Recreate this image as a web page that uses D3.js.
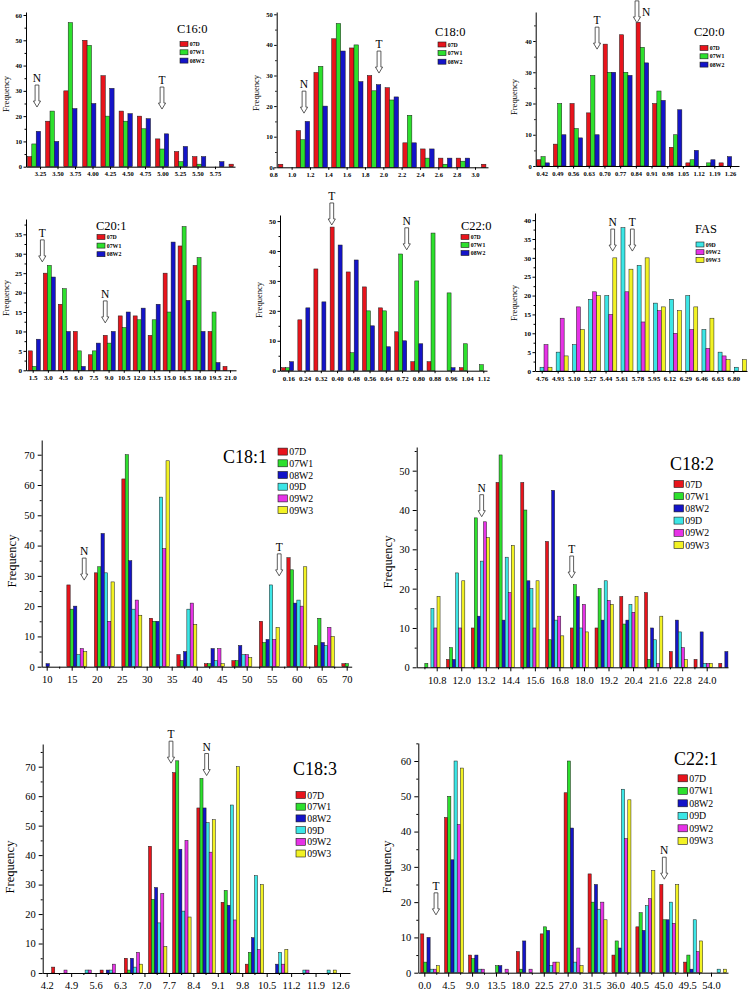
<!DOCTYPE html>
<html><head><meta charset="utf-8">
<script src="https://cdnjs.cloudflare.com/ajax/libs/d3/7.8.5/d3.min.js"></script>
<style>
body{margin:0;background:#fff}
svg{display:block}
text{font-family:"Liberation Serif","Times New Roman",serif;fill:#000}
</style></head>
<body><svg id="c" width="750" height="992"></svg>
<script>
// ---------------- DATA ----------------
const colors = {"07D":"#e8141c","07W1":"#2de02d","08W2":"#1414c8","09D":"#3ce6e6","09W2":"#e632e6","09W3":"#f2f224"};

// C16:0
const c160Bins = [3.07,3.33,3.59,3.86,4.12,4.38,4.64,4.90,5.17,5.43,5.69,5.95];
const c160Ticks = [3.25,3.50,3.75,4.00,4.25,4.50,4.75,5.00,5.25,5.50,5.75];
const c160_07D  = [4,18,30,50,36,22,20,11,6,4,0,1];
const c160_07W1 = [9,22,57,48,20,18,15,7,2,1,0,0];
const c160_08W2 = [14,10,23,25,31,21,19,13,8,4,2,0];
const c160Arrows = [{label:"N",x:3.207,tip:23.6},{label:"T",x:4.993,tip:22.8}];

// C18:0
const c180Bins = [0.855,1.049,1.243,1.437,1.631,1.825,2.019,2.213,2.407,2.601,2.795,3.07];
const c180Ticks = [0.8,1.0,1.2,1.4,1.6,1.8,2.0,2.2,2.4,2.6,2.8,3.0];
const c180_07D  = [1,12,31,42,39,30,26,8,6,3,3,1];
const c180_07W1 = [0,9,33,47,40,25,22,17,3,1,2,0];
const c180_08W2 = [0,15,20,38,28,27,23,8,6,3,3,0];
const c180Arrows = [{label:"N",x:1.135,tip:17.7},{label:"T",x:1.953,tip:30.8}];

// C20:0
const c200Bins = [0.398,0.472,0.546,0.620,0.694,0.767,0.841,0.915,0.989,1.063,1.137,1.211];
const c200Ticks = [0.42,0.49,0.56,0.63,0.70,0.77,0.84,0.91,0.98,1.05,1.12,1.19,1.26];
const c200_07D  = [2,7,20,17,39,42,46,20,6,1,0,1];
const c200_07W1 = [3,20,12,29,30,30,38,24,10,2,1,0];
const c200_08W2 = [1,10,9,10,30,29,33,21,18,5,2,3];
const c200Arrows = [{label:"T",x:0.667,tip:37.4},{label:"N",x:0.845,tip:45.8,side:"right"}];

// C20:1
const c201Bins = [1.07,2.55,4.03,5.51,6.99,8.47,9.95,11.43,12.91,14.39,15.87,17.35,18.83,20.31];
const c201Ticks = [1.5,3.0,4.5,6.0,7.5,9.0,10.5,12.0,13.5,15.0,16.5,18.0,19.5,21.0];
const c201_07D  = [5,25,17,10,4,9,14,14,9,25,32,27,10,1];
const c201_07W1 = [1,27,21,5,5,7,11,13,13,15,37,29,15,0];
const c201_08W2 = [8,24,10,1,7,10,15,16,17,33,18,10,2,0];
const c201Arrows = [{label:"T",x:2.45,tip:27.9},{label:"N",x:8.67,tip:12.2}];

// C22:0
const c220Bins = [0.127,0.207,0.286,0.366,0.445,0.525,0.604,0.684,0.763,0.843,0.922,1.002,1.081];
const c220Ticks = [0.16,0.24,0.32,0.40,0.48,0.56,0.64,0.72,0.80,0.88,0.96,1.04,1.12];
const c220_07D  = [1,17,34,48,33,28,21,13,3,3,0,1,0];
const c220_07W1 = [1,0,0,0,6,20,20,39,30,46,26,9,2];
const c220_08W2 = [3,21,23,42,37,15,8,10,9,0,1,0,0];
const c220Arrows = [{label:"T",x:0.374,tip:48.7},{label:"N",x:0.743,tip:40.4}];

// FAS
const fasBins = [4.742,4.914,5.087,5.259,5.432,5.604,5.776,5.949,6.121,6.294,6.466,6.638,6.811];
const fasTicks = [4.76,4.93,5.10,5.27,5.44,5.61,5.78,5.95,6.12,6.29,6.46,6.63,6.80];
const fas_09D  = [1,5,7,19,20,38,28,18,19,20,11,5,1];
const fas_09W2 = [7,14,17,21,15,21,13,16,10,11,6,4,0];
const fas_09W3 = [1,4,11,20,30,27,30,17,16,17,14,3,3];
const fasArrows = [{label:"N",x:5.516,tip:31.8},{label:"T",x:5.725,tip:31.8}];

// C18:1
const c181Bins = [8.53,14.03,19.53,25.03,30.53,36.03,41.53,47.03,52.53,58.03,63.53,69.03];
const c181Ticks = [10,15,20,25,30,35,40,45,50,55,60,65,70];
const c181_07D  = [0,27,31,62,16,4,1,2,15,36,7,1];
const c181_07W1 = [0,19,33,70,15,2,1,2,8,32,16,1];
const c181_08W2 = [1,20,44,35,15,5,6,7,9,21,8,0];
const c181_09D  = [0,4,31,19,56,19,2,4,27,22,7,0];
const c181_09W2 = [0,6,15,22,39,21,6,4,9,20,13,0];
const c181_09W3 = [0,5,28,17,68,14,1,3,13,33,10,0];
const c181Arrows = [{label:"N",x:17.5,tip:28.6},{label:"T",x:56.5,tip:30.0}];

// C18:2
const c182Bins = [10.07,11.28,12.49,13.70,14.91,16.12,17.33,18.54,19.75,20.96,22.17,23.38,24.59];
const c182Ticks = [10.8,12.0,13.2,14.4,15.6,16.8,18.0,19.2,20.4,21.6,22.8,24.0];
const c182_07D  = [0,2,10,47,47,32,10,10,18,19,4,2,1];
const c182_07W1 = [1,5,38,54,40,7,21,20,11,2,0,0,0];
const c182_08W2 = [0,2,13,12,22,45,18,12,12,10,12,9,4];
const c182_09D  = [15,24,27,28,20,12,10,22,16,7,9,1,0];
const c182_09W2 = [10,10,37,19,10,13,16,17,14,1,5,1,0];
const c182_09W3 = [18,22,33,31,22,8,9,16,18,13,2,1,0];
const c182Arrows = [{label:"N",x:13.0,tip:38.3},{label:"T",x:17.4,tip:22.7}];

// C18:3
const c183Bins = [4.343,5.036,5.729,6.422,7.115,7.808,8.501,9.194,9.887,10.580,11.273,11.966];
const c183Ticks = [4.2,4.9,5.6,6.3,7.0,7.7,8.4,9.1,9.8,10.5,11.2,11.9,12.6];
const c183_07D  = [2,0,1,5,43,68,56,24,3,0,0,0];
const c183_07W1 = [0,0,0,1,25,72,66,28,7,0,0,0];
const c183_08W2 = [0,0,1,5,29,42,56,23,12,3,0,0];
const c183_09D  = [0,1,1,2,17,21,51,57,33,7,1,1];
const c183_09W2 = [1,1,3,7,27,45,41,18,8,3,1,0];
const c183_09W3 = [0,0,0,3,9,19,52,70,30,8,0,1];
const c183Arrows = [{label:"T",x:7.76,tip:71.2},{label:"N",x:8.78,tip:67.0}];

// C22:1
const c221Bins = [-0.69,3.81,8.32,12.82,17.33,21.83,26.33,30.84,35.34,39.85,44.35,48.85,53.36];
const c221Ticks = [0,4.5,9,13.5,18,22.5,27,31.5,36,40.5,45,49.5,54];
const c221_07D  = [11,44,5,0,6,11,51,28,5,13,25,3,0];
const c221_07W1 = [3,50,4,2,1,13,60,20,9,17,15,5,0];
const c221_08W2 = [10,32,5,2,9,12,41,25,7,12,15,1,0];
const c221_09D  = [1,60,1,0,0,2,3,18,52,19,20,15,1];
const c221_09W2 = [1,42,1,1,1,3,7,20,38,21,14,6,0];
const c221_09W3 = [2,58,0,0,0,3,2,15,49,29,25,9,1];
const c221Arrows = [{label:"T",x:2.2,tip:16.4},{label:"N",x:45.2,tip:26.5}];

// ---------------- LAYOUT ----------------
const small = {tick:2.5, minor:1.5, tickFs:6.5, bold:true, labFs:8.5, titleFs:12.5, arrowFs:11.5,
  leg:{sw:8, sh:5, fs:5.8, bold:true}, xPad:2.5};
const big = {tick:4, minor:2, tickFs:10.5, bold:false, labFs:12.5, titleFs:18, arrowFs:11.5,
  leg:{sw:9.5, sh:7, fs:9.8, bold:false}, xPad:5, xMinor:true};

const panels = [
 {style:small, title:"C16:0", axL:26, axR:235, base:166.7, axTop:12, cal:[3.25,40,5.75,215], ycal:[60,15], barW:4.4,
  yStep:10, xTicks:c160Ticks, xFmt:".2f", bins:c160Bins, series:[["07D",c160_07D],["07W1",c160_07W1],["08W2",c160_08W2]],
  titlePos:[177,33], legPos:[180,44,8.3], ylab:[6,94], arrows:c160Arrows},
 {style:small, title:"C18:0", axL:276.7, axR:488, base:167.3, axTop:12, cal:[0.8,273.3,3.0,475], ycal:[50,14.3], barW:4.5,
  yStep:10, xTicks:c180Ticks, xFmt:".1f", bins:c180Bins, series:[["07D",c180_07D],["07W1",c180_07W1],["08W2",c180_08W2]],
  titlePos:[435,36], legPos:[438,44.5,8.6], ylab:[256,93], arrows:c180Arrows},
 {style:small, title:"C20:0", axL:535.7, axR:739, base:166, axTop:12, cal:[0.42,541.7,1.26,730], ycal:[40,41], barW:4.2,
  yStep:10, xTicks:c200Ticks, xFmt:".2f", bins:c200Bins, series:[["07D",c200_07D],["07W1",c200_07W1],["08W2",c200_08W2]],
  titlePos:[694,36], legPos:[700,48,8.3], ylab:[513.5,97], arrows:c200Arrows},
 {style:small, title:"C20:1", axL:26, axR:236, base:370.3, axTop:219, cal:[1.5,32.7,21.0,230], ycal:[35,234.3], barW:4,
  yStep:5, xTicks:c201Ticks, xFmt:".1f", bins:c201Bins, series:[["07D",c201_07D],["07W1",c201_07W1],["08W2",c201_08W2]],
  titlePos:[96,230], legPos:[97,237,8.6], ylab:[5.5,298], arrows:c201Arrows, tickFs:7.1},
 {style:small, title:"C22:0", axL:280, axR:487, base:370.7, axTop:215, cal:[0.16,288.3,1.12,483.3], ycal:[40,251], barW:4,
  yStep:10, xTicks:c220Ticks, xFmt:".2f", bins:c220Bins, series:[["07D",c220_07D],["07W1",c220_07W1],["08W2",c220_08W2]],
  titlePos:[461,230], legPos:[461,237,8], ylab:[259,300], arrows:c220Arrows, tickFs:6.9},
 {style:small, title:"FAS", axL:535, axR:747, base:371, axTop:213, cal:[4.76,541.7,6.80,733.3], ycal:[35,239], barW:4,
  yStep:5, xTicks:fasTicks, xFmt:".2f", bins:fasBins, series:[["09D",fas_09D],["09W2",fas_09W2],["09W3",fas_09W3]],
  titlePos:[695,233], legPos:[696,244.5,7.7], ylab:[513.5,303], arrows:fasArrows, tickFs:7.1},
 {style:big, title:"C18:1", axL:41.7, axR:351.7, base:666.7, axTop:440, cal:[10,46.7,70,346.7], ycal:[60,485], barW:3.33,
  yStep:10, xTicks:c181Ticks, xFmt:"d", bins:c181Bins,
  series:[["07D",c181_07D],["07W1",c181_07W1],["08W2",c181_08W2],["09D",c181_09D],["09W2",c181_09W2],["09W3",c181_09W3]],
  titlePos:[223,463], legPos:[278,451.6,11.7], ylab:[12,561], arrows:c181Arrows},
 {style:big, title:"C18:2", axL:416.7, axR:728, base:667.3, axTop:447, cal:[10.8,436.7,24.0,706.7], ycal:[40,510], barW:3.05,
  yStep:10, xTicks:c182Ticks, xFmt:".1f", bins:c182Bins,
  series:[["07D",c182_07D],["07W1",c182_07W1],["08W2",c182_08W2],["09D",c182_09D],["09W2",c182_09W2],["09W3",c182_09W3]],
  titlePos:[670,470], legPos:[674,484,12.2], ylab:[388,562], arrows:c182Arrows},
 {style:big, title:"C18:3", axL:42.7, axR:350, base:973, axTop:744, cal:[4.2,46.7,12.6,340], ycal:[70,766.7], barW:3.07,
  yStep:10, xTicks:c183Ticks, xFmt:".1f", bins:c183Bins,
  series:[["07D",c183_07D],["07W1",c183_07W1],["08W2",c183_08W2],["09D",c183_09D],["09W2",c183_09W2],["09W3",c183_09W3]],
  titlePos:[293,775], legPos:[296,795,11.7], ylab:[10,867], arrows:c183Arrows},
 {style:big, title:"C22:1", axL:418.3, axR:728, base:972.7, axTop:743, cal:[0,424.3,54,711], ycal:[60,761], barW:3.17,
  yStep:10, xTicks:c221Ticks, xFmt:".1f", bins:c221Bins,
  series:[["07D",c221_07D],["07W1",c221_07W1],["08W2",c221_08W2],["09D",c221_09D],["09W2",c221_09W2],["09W3",c221_09W3]],
  titlePos:[674,765], legPos:[678,778.3,12.5], ylab:[387,867], arrows:c221Arrows}
];

// ---------------- DRAW ----------------
const svg = d3.select("#c");
const FONT = '"Liberation Serif","Times New Roman",serif';

function drawPanel(p) {
  const st = p.style;
  const kx = (p.cal[3] - p.cal[1]) / (p.cal[2] - p.cal[0]);
  const d0 = p.cal[0] + (p.axL - p.cal[1]) / kx;
  const d1 = p.cal[0] + (p.axR - p.cal[1]) / kx;
  const x = d3.scaleLinear().domain([d0, d1]).range([p.axL, p.axR]);
  const ky = (p.base - p.ycal[1]) / p.ycal[0];
  const yMax = (p.base - p.axTop) / ky;
  const y = d3.scaleLinear().domain([0, yMax]).range([p.base, p.axTop]);
  const g = svg.append("g");

  // bars
  p.series.forEach(([name, vals], i) => {
    g.append("g").selectAll("rect")
      .data(p.bins.map((b, j) => ({b, v: vals[j]})).filter(d => d.v > 0))
      .join("rect")
      .attr("x", d => x(d.b) + i * p.barW)
      .attr("y", d => y(d.v))
      .attr("width", p.barW)
      .attr("height", d => y(0) - y(d.v))
      .attr("fill", colors[name])
      .attr("stroke", "#1a1a1a")
      .attr("stroke-width", 0.5);
  });

  const tickFs = p.tickFs || st.tickFs;
  const styleAxis = sel => {
    sel.attr("font-family", FONT).attr("font-size", tickFs)
      .attr("font-weight", st.bold ? "bold" : "normal");
    sel.selectAll("path,line").attr("stroke", "#000").attr("stroke-width", 1);
    sel.selectAll("text").attr("fill", "#000");
  };

  // y axis
  const yTicks = d3.range(0, yMax + 1e-6, p.yStep);
  const yMinor = d3.range(p.yStep / 2, yMax, p.yStep);
  g.append("g").attr("transform", `translate(${p.axL},0)`)
    .call(d3.axisLeft(y).tickValues(yMinor).tickSize(st.minor).tickFormat("").tickSizeOuter(0))
    .call(s => s.select(".domain").remove())
    .call(styleAxis);
  g.append("g").attr("transform", `translate(${p.axL},0)`)
    .call(d3.axisLeft(y).tickValues(yTicks).tickSize(st.tick).tickPadding(st.bold ? 1.5 : 3)
      .tickSizeOuter(0).tickFormat(d3.format("d")))
    .call(styleAxis);

  // x axis
  if (st.xMinor) {
    const step = p.xTicks[1] - p.xTicks[0];
    const mins = p.xTicks.slice(0, -1).map(t => t + step / 2).concat([p.xTicks[0] - step / 2])
      .filter(v => x(v) >= p.axL && x(v) <= p.axR);
    g.append("g").attr("transform", `translate(0,${p.base})`)
      .call(d3.axisBottom(x).tickValues(mins).tickSize(st.minor).tickFormat("").tickSizeOuter(0))
      .call(s => s.select(".domain").remove())
      .call(styleAxis);
  }
  g.append("g").attr("transform", `translate(0,${p.base})`)
    .call(d3.axisBottom(x).tickValues(p.xTicks).tickSize(st.tick).tickPadding(st.xPad)
      .tickSizeOuter(0).tickFormat(d3.format(p.xFmt)))
    .call(styleAxis);

  // y label
  g.append("text")
    .attr("transform", `translate(${p.ylab[0]},${p.ylab[1]}) rotate(-90)`)
    .attr("text-anchor", "middle").attr("dominant-baseline", "central")
    .attr("font-size", st.labFs).text("Frequency");

  // title
  g.append("text").attr("x", p.titlePos[0]).attr("y", p.titlePos[1])
    .attr("font-size", st.titleFs).text(p.title);

  // legend
  const L = st.leg;
  const lg = g.append("g");
  p.series.forEach(([name], i) => {
    const cy = p.legPos[1] + i * p.legPos[2];
    lg.append("rect").attr("x", p.legPos[0]).attr("y", cy - L.sh / 2)
      .attr("width", L.sw).attr("height", L.sh)
      .attr("fill", colors[name]).attr("stroke", "#1a1a1a").attr("stroke-width", 0.6);
    lg.append("text").attr("x", p.legPos[0] + L.sw + 1.8).attr("y", cy)
      .attr("dominant-baseline", "central")
      .attr("font-size", L.fs).attr("font-weight", L.bold ? "bold" : "normal").text(name);
  });

  // arrows
  const len = 22, sw = 1.9, hw = 3.6, hh = 6;
  p.arrows.forEach(a => {
    const ax = x(a.x), tipY = y(a.tip), top = tipY - len;
    const path = `M${ax - sw},${top} L${ax + sw},${top} L${ax + sw},${tipY - hh} L${ax + hw},${tipY - hh}` +
                 ` L${ax},${tipY} L${ax - hw},${tipY - hh} L${ax - sw},${tipY - hh} Z`;
    g.append("path").attr("d", path).attr("fill", "#fff").attr("stroke", "#333").attr("stroke-width", 0.8);
    if (a.side === "right") {
      g.append("text").attr("x", ax + 5).attr("y", top + 15)
        .attr("font-size", st.arrowFs).text(a.label);
    } else {
      g.append("text").attr("x", ax).attr("y", top - 3).attr("text-anchor", "middle")
        .attr("font-size", st.arrowFs).text(a.label);
    }
  });
}

panels.forEach(drawPanel);
</script>
</body></html>
